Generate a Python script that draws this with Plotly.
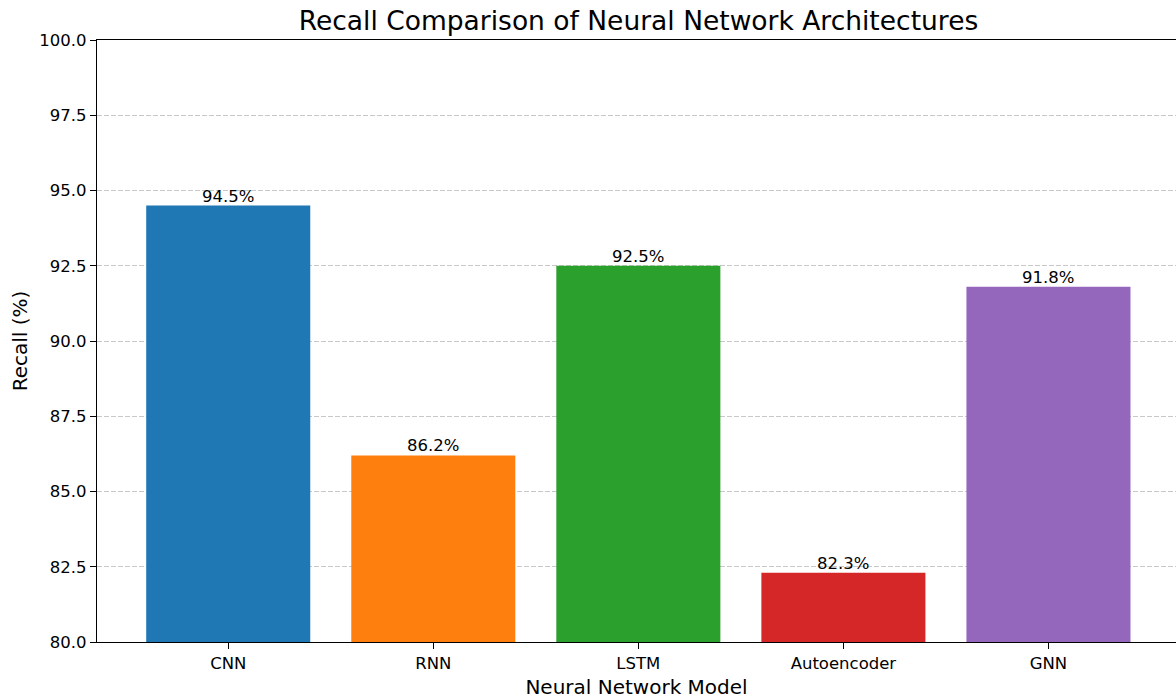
import plotly.graph_objects as go

models = ["CNN", "RNN", "LSTM", "Autoencoder", "GNN"]
recall = [94.5, 86.2, 92.5, 82.3, 91.8]
colors = ["#1f77b4", "#ff7f0e", "#2ca02c", "#d62728", "#9467bd"]
ytick_vals = [80.0, 82.5, 85.0, 87.5, 90.0, 92.5, 95.0, 97.5, 100.0]

FONT = "DejaVu Sans"

fig = go.Figure()
fig.add_trace(go.Bar(
    x=models, y=recall, marker=dict(color=colors, line=dict(width=0)),
    width=0.8,
    hoverinfo="skip",
))
for m, v in zip(models, recall):
    fig.add_annotation(x=m, y=v, text=f"{v:.1f}%", showarrow=False,
                       xanchor="center", yanchor="bottom", yshift=-2,
                       font=dict(family=FONT, size=16.5, color="black"))

fig.update_layout(
    width=1176, height=699,
    margin=dict(l=97, r=0, t=40, b=57),
    paper_bgcolor="white", plot_bgcolor="white",
    font=dict(family=FONT, color="black"),
    showlegend=False,
    title=dict(text="Recall Comparison of Neural Network Architectures",
               x=(97 + 1180) / 2 / 1176, xanchor="center",
               y=1 - 21 / 699, yanchor="middle",
               font=dict(family=FONT, size=26.5, color="black")),
    bargap=0.2,
)
fig.update_xaxes(
    type="category", range=[-0.64, 4.622],
    showline=True, linecolor="black", linewidth=1.3, mirror=True,
    ticks="outside", ticklen=6, tickwidth=1.3, tickcolor="black",
    tickfont=dict(family=FONT, size=16.5, color="black"),
    showgrid=False, zeroline=False,
    title=dict(text="Neural Network Model", font=dict(family=FONT, size=20, color="black"), standoff=8),
    automargin=False,
)
fig.update_yaxes(
    range=[80, 100], tickvals=ytick_vals, tickformat=".1f",
    showline=True, linecolor="black", linewidth=1.3,
    ticks="outside", ticklen=6, tickwidth=1.3, tickcolor="black",
    tickfont=dict(family=FONT, size=16.5, color="black"),
    showgrid=True, gridcolor="rgba(176,176,176,0.7)", griddash="5px,2px", gridwidth=1.2,
    zeroline=False,
    title=dict(text="Recall (%)", font=dict(family=FONT, size=20, color="black"), standoff=6),
    automargin=False,
)

fig.write_html("out.html")
